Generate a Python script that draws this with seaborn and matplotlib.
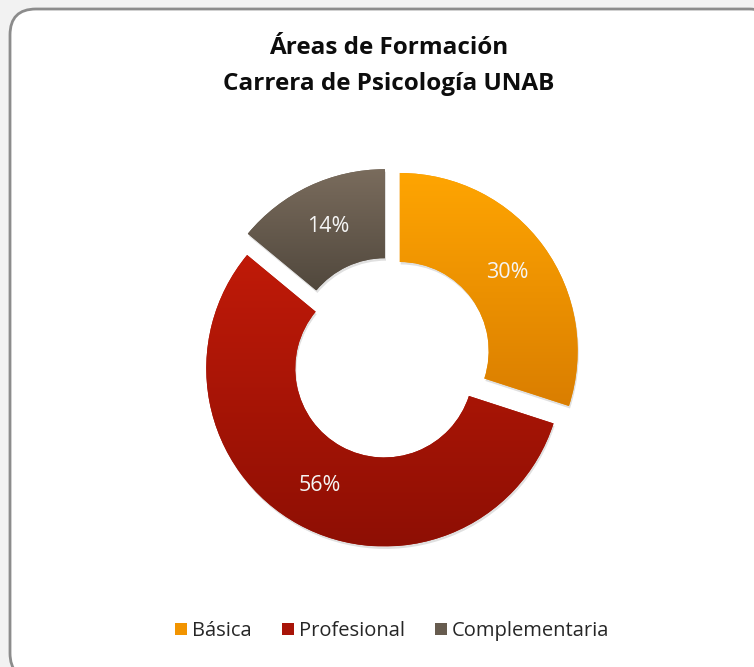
import numpy as np
import matplotlib
matplotlib.use('Agg')
import matplotlib.pyplot as plt
import seaborn as sns
from matplotlib.patches import FancyBboxPatch, Patch, Wedge
from matplotlib.colors import LinearSegmentedColormap

# data
categories = ['Básica', 'Profesional', 'Complementaria']
shares = [30, 56, 14]
title_lines = ['Áreas de Formación', 'Carrera de Psicología UNAB']

# top / bottom colours of each slice gradient
grad_top = ['#FFA502', '#C01A08', '#7A6C5D']
grad_bottom = ['#DA7E00', '#8E0F04', '#51483D']
flat_colors = ['#F29400', '#A81408', '#675C4F']

sns.set_theme(style='white')
plt.rcParams['font.family'] = ['Open Sans', 'DejaVu Sans']

W, H = 754, 667
fig = plt.figure(figsize=(W / 100, H / 100), dpi=100)
fig.patch.set_facecolor('#F2F2F2')

# background axes in pixel units for the rounded frame
bg = fig.add_axes([0, 0, 1, 1])
bg.set_xlim(0, W)
bg.set_ylim(H, 0)
bg.axis('off')
bg.add_patch(FancyBboxPatch((10, 9), 765, 670, boxstyle='round,pad=0,rounding_size=26',
                            facecolor='white', edgecolor='#8C8C8C', linewidth=2))

bg.text(389, 48, title_lines[0], ha='center', va='center', fontsize=17.5,
        fontweight='bold', color='#0D0D0D')
bg.text(389, 84, title_lines[1], ha='center', va='center', fontsize=17.5,
        fontweight='bold', color='#0D0D0D')

# pie axes: centre at (390, 358) px, 1 data unit = 178 px
size = 420
cx, cy = 390, 358
ax = fig.add_axes([(cx - size / 2) / W, (H - cy - size / 2) / H, size / W, size / H])
lim = size / 2 / 178
ax.set_xlim(-lim, lim)
ax.set_ylim(-lim, lim)
ax.set_aspect('equal')
ax.axis('off')

wedges, texts, autotexts = ax.pie(
    shares, colors=flat_colors, startangle=90, counterclock=False,
    explode=[0.067] * 3, autopct='%1.0f%%', pctdistance=0.75,
    wedgeprops=dict(width=0.5, linewidth=0),
    textprops=dict(color='#F5F5F5', fontsize=15.5))

for i, w in enumerate(wedges):
    # soft shadow
    sh = Wedge((w.center[0] + 0.006, w.center[1] - 0.014), w.r, w.theta1, w.theta2,
               width=w.width, facecolor='#000000', alpha=0.12, linewidth=0, zorder=0.5)
    ax.add_patch(sh)
    w.set_zorder(1)
    ext = w.get_path().get_extents()
    cmap = LinearSegmentedColormap.from_list('g%d' % i, [grad_bottom[i], grad_top[i]])
    grad = np.linspace(0, 1, 256).reshape(-1, 1)
    im = ax.imshow(grad, cmap=cmap, origin='lower', aspect='auto',
                   extent=(ext.x0, ext.x1, ext.y0, ext.y1), zorder=2)
    im.set_clip_path(w)

ax.set_xlim(-lim, lim)
ax.set_ylim(-lim, lim)
for t in autotexts:
    t.set_zorder(5)

handles = [Patch(facecolor=c, edgecolor='none') for c in flat_colors]
fig.legend(handles, categories, loc='center', bbox_to_anchor=(392 / W, 1 - 631 / H),
           ncol=3, frameon=False, fontsize=14.5, handlelength=0.6, handleheight=0.6,
           handletextpad=0.25, columnspacing=1.5, labelcolor='#262626')

fig.savefig('out.png', dpi=100, facecolor=fig.get_facecolor())
